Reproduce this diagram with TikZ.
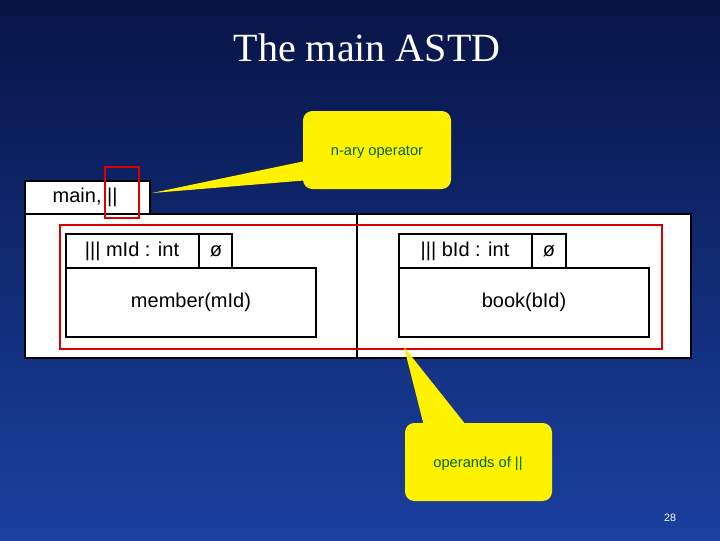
\documentclass[tikz,border=0pt]{standalone}
\usepackage{fontspec}
\setsansfont{Liberation Sans}
\setmainfont{Liberation Serif}
\begin{document}
\begin{tikzpicture}[x=0.75pt,y=-0.75pt,
  box/.style={draw=black,fill=white,line width=1pt},
  redbox/.style={draw=red!85!black,line width=2.2pt},
  callout/.style={fill=yellow,rounded corners=7pt},
  lbl/.style={font=\sffamily\fontsize{15}{15}\selectfont,text=black},
  clbl/.style={font=\sffamily\fontsize{11}{11}\selectfont,text=green!40!black}]
\useasboundingbox (0,0) rectangle (720,540);
\shade[top color={rgb,255:red,8;green,20;blue,70},bottom color={rgb,255:red,25;green,65;blue,160}] (0,0) rectangle (720,540);
\node[font=\fontsize{30}{30}\selectfont,text=white] (title) at (367,48) {The main ASTD};
% main
\draw[box] (25,181) rectangle (150,214);
\node[lbl,anchor=west] (maintab) at (48,197) {main, ||};
\draw[box] (25,214) rectangle (691,358);
\draw[line width=1pt] (357,214) -- (357,358);
% left
\draw[box] (66,234) rectangle (199,268);
\node[lbl] (lt) at (132,251) {||| mId : int};
\draw[box] (199,234) rectangle (232,268);
\node[lbl] (lo) at (216,251) {ø};
\draw[box] (66,268) rectangle (316,337);
\node[lbl] (lb) at (191,302) {member(mId)};
% right
\draw[box] (399,234) rectangle (532,268);
\node[lbl] (rt) at (465,251) {||| bId : int};
\draw[box] (532,234) rectangle (566,268);
\node[lbl] (ro) at (549,251) {ø};
\draw[box] (399,268) rectangle (649,337);
\node[lbl] (rb) at (524,302) {book(bId)};
% red
\draw[redbox] (105,167) rectangle (139,218);
\draw[redbox] (60,225) rectangle (662,349);
% callouts
\fill[yellow] (152,193) -- (310,160) -- (310,180) -- cycle;
\fill[callout] (303,111) rectangle (451,189);
\node[clbl] (c1) at (377,152) {n-ary operator};
\fill[yellow] (404,347) -- (425,430) -- (470,430) -- cycle;
\fill[callout] (405,423) rectangle (552,501);
\node[clbl] (c2) at (478,464) {operands of ||};
\node[font=\sffamily\fontsize{8}{8}\selectfont,text=white] (pg) at (670,518) {28};
\end{tikzpicture}
\end{document}
